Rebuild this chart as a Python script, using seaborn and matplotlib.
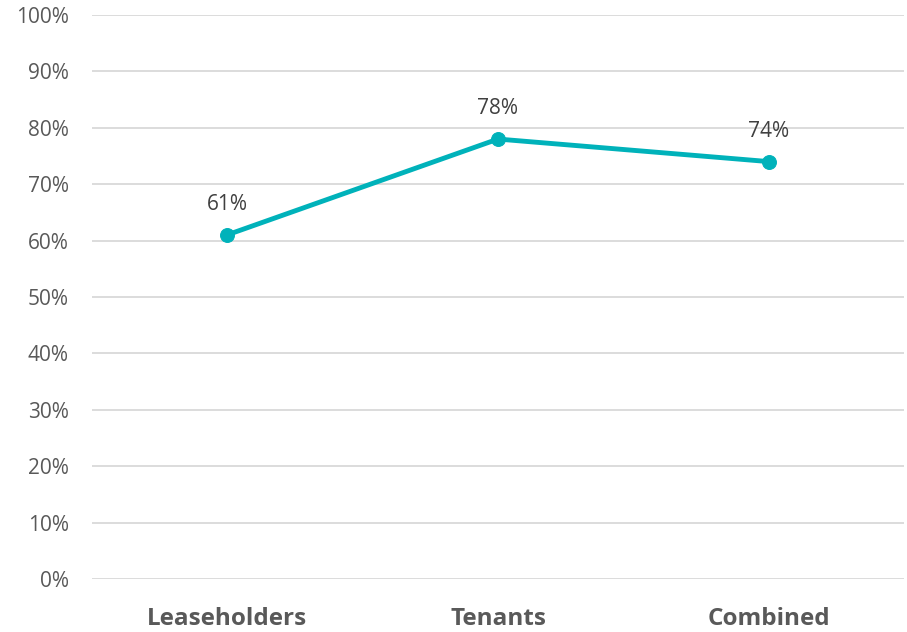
import matplotlib
matplotlib.use("Agg")
import matplotlib.pyplot as plt
import seaborn as sns
import pandas as pd
from matplotlib.ticker import PercentFormatter

groups = ["Leaseholders", "Tenants", "Combined"]
shares = [61, 78, 74]
y_ticks = [0, 10, 20, 30, 40, 50, 60, 70, 80, 90, 100]

df = pd.DataFrame({"group": groups, "share": shares})

sns.set_theme(style="white")
plt.rcParams["font.family"] = ["Open Sans", "DejaVu Sans"]

fig = plt.figure(figsize=(9.07, 6.32), dpi=100)
ax = fig.add_axes([0.1009, 0.0839, 0.8963, 0.8924])

line_color = "#00B2BA"
text_color = "#595959"

sns.lineplot(data=df, x="group", y="share", ax=ax, color=line_color,
             linewidth=3.5, marker="o", markersize=10,
             markeredgecolor=line_color, sort=False)

for i, v in enumerate(shares):
    ax.annotate(f"{v}%", (i, v), xytext=(0, 22), textcoords="offset points",
                ha="center", va="center", fontsize=15, color="#404040")

ax.set_xlim(-0.5, 2.5)
ax.set_ylim(0, 100)
ax.set_yticks(y_ticks)
ax.yaxis.set_major_formatter(PercentFormatter(decimals=0))
ax.grid(axis="y", color="#D9D9D9", linewidth=1.3)
ax.set_axisbelow(True)
for s in ax.spines.values():
    s.set_visible(False)
ax.tick_params(axis="y", length=0, pad=16.5, labelsize=15, labelcolor=text_color)
ax.tick_params(axis="x", length=0, pad=20, labelsize=17.5, labelcolor=text_color)
for lbl in ax.get_xticklabels():
    lbl.set_fontweight("bold")
ax.set_xlabel("")
ax.set_ylabel("")

fig.savefig("out.png", dpi=100)
